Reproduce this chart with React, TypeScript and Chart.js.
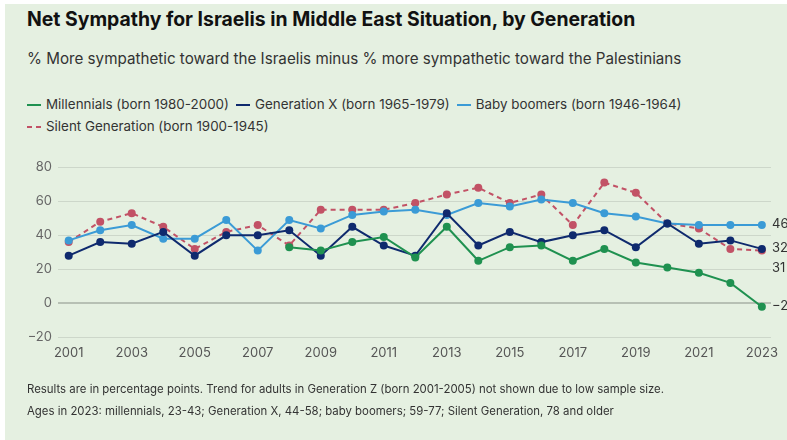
import React, { useEffect, useRef } from "react";
import { Chart, registerables } from "chart.js";

Chart.register(...registerables);

const years = [2001, 2002, 2003, 2004, 2005, 2006, 2007, 2008, 2009, 2010, 2011, 2012, 2013, 2014, 2015, 2016, 2017, 2018, 2019, 2020, 2021, 2022, 2023];
const tickYears = [2001, 2003, 2005, 2007, 2009, 2011, 2013, 2015, 2017, 2019, 2021, 2023];
const yTicks = [-20, 0, 20, 40, 60, 80];

const millennials = [null, null, null, null, null, null, null, 33, 31, 36, 39, 27, 45, 25, 33, 34, 25, 32, 24, 21, 18, 12, -2];
const genX = [28, 36, 35, 42, 28, 40, 40, 43, 28, 45, 34, 28, 53, 34, 42, 36, 40, 43, 33, 47, 35, 37, 32];
const boomers = [37, 43, 46, 38, 38, 49, 31, 49, 44, 52, 54, 55, 52, 59, 57, 61, 59, 53, 51, 47, 46, 46, 46];
const silent = [36, 48, 53, 45, 32, 42, 46, 34, 55, 55, 55, 59, 64, 68, 59, 64, 46, 71, 65, 47, 44, 32, 31];

const seriesNames = [
  "Millennials (born 1980-2000)",
  "Generation X (born 1965-1979)",
  "Baby boomers (born 1946-1964)",
  "Silent Generation (born 1900-1945)",
];
const seriesColors = ["#1f9150", "#0f2a6e", "#3b9bd6", "#c25266"];

const FONT = "Inter, 'Noto Sans', sans-serif";
const BG = "#e5f0e1";

const fmt = (v: number) => (v < 0 ? "\u2212" + Math.abs(v) : String(v));

const endLabels = {
  id: "endLabels",
  afterDatasetsDraw(chart: any) {
    const ctx = chart.ctx;
    const items: { y: number; text: string }[] = [];
    chart.data.datasets.forEach((ds: any, i: number) => {
      const meta = chart.getDatasetMeta(i);
      const last = meta.data[meta.data.length - 1];
      const val = ds.data[ds.data.length - 1].y;
      if (last && val !== null) items.push({ y: last.y - 1, text: fmt(val) });
    });
    items.sort((a, b) => a.y - b.y);
    for (let i = 1; i < items.length; i++) {
      if (items[i].y < items[i - 1].y + 20) items[i].y = items[i - 1].y + 20;
    }
    ctx.save();
    ctx.font = `13px ${FONT}`;
    ctx.fillStyle = "#333";
    ctx.textAlign = "left";
    ctx.textBaseline = "middle";
    items.forEach((it) => ctx.fillText(it.text, chart.chartArea.right + 1, it.y));
    ctx.restore();
  },
};

function LegendItem({ name, color, dashed }: { name: string; color: string; dashed?: boolean }) {
  return (
    <span style={{ display: "inline-flex", alignItems: "center", marginRight: 7, whiteSpace: "nowrap" }}>
      {dashed ? (
        <span style={{ display: "inline-flex", width: 14, marginRight: 5, justifyContent: "space-between" }}>
          <span style={{ width: 5, height: 2, background: color, display: "inline-block" }} />
          <span style={{ width: 5, height: 2, background: color, display: "inline-block" }} />
        </span>
      ) : (
        <span style={{ width: 14, height: 2.5, background: color, marginRight: 5, display: "inline-block" }} />
      )}
      {name}
    </span>
  );
}

export default function App() {
  const ref = useRef<HTMLCanvasElement | null>(null);

  useEffect(() => {
    if (!ref.current) return;
    const all = [millennials, genX, boomers, silent];
    const chart = new Chart(ref.current, {
      type: "line",
      data: {
        datasets: all.map((arr, i) => ({
          label: seriesNames[i],
          data: years.map((yr, j) => ({ x: yr, y: arr[j] })),
          borderColor: seriesColors[i],
          backgroundColor: seriesColors[i],
          pointBackgroundColor: seriesColors[i],
          pointBorderColor: seriesColors[i],
          borderWidth: 2,
          pointRadius: 4,
          pointBorderWidth: 0,
          borderDash: i === 3 ? [5, 4] : [],
          tension: 0,
          spanGaps: false,
          clip: false as any,
        })),
      },
      options: {
        animation: false,
        responsive: false,
        maintainAspectRatio: false,
        layout: { padding: { top: 167.3, right: 16, bottom: 72.7, left: 0 } },
        plugins: {
          legend: { display: false },
          tooltip: { enabled: false },
        },
        scales: {
          x: {
            type: "linear",
            min: 2000.66,
            max: 2023.29,
            grid: { display: false, drawTicks: false },
            border: { display: false },
            ticks: {
              autoSkip: false,
              maxRotation: 0,
              padding: 8,
              color: "#555",
              font: { family: FONT, size: 13 },
              callback: (v: any) => String(v),
            },
            afterBuildTicks: (s: any) => {
              s.ticks = tickYears.map((v) => ({ value: v }));
            },
            afterFit: (s: any) => {
              s.height = 30;
            },
          },
          y: {
            min: -20,
            max: 80,
            grid: {
              drawTicks: false,
              color: (c: any) => (c.tick && c.tick.value === 0 ? "rgba(0,0,0,0.2)" : "rgba(0,0,0,0.1)"),
              lineWidth: (c: any) => (c.tick && c.tick.value === 0 ? 2 : 1),
            },
            border: { display: false },
            ticks: {
              padding: 6,
              color: "#666",
              font: { family: FONT, size: 13 },
              callback: (v: any) => fmt(Number(v)),
            },
            afterBuildTicks: (s: any) => {
              s.ticks = yTicks.map((v) => ({ value: v }));
            },
            afterFit: (s: any) => {
              s.width = 58;
            },
          },
        },
      },
      plugins: [endLabels],
    } as any);
    return () => chart.destroy();
  }, []);

  return (
    <div style={{ position: "absolute", left: 0, top: 0, width: 787, height: 440, background: "#fff", overflow: "hidden", fontFamily: FONT }}>
      <div style={{ position: "absolute", left: 5, top: 4, right: 0, bottom: 0, background: BG }} />
      <div style={{ position: "absolute", left: 27, top: 10, fontSize: 19.4, lineHeight: "19.4px", fontWeight: 700, color: "#111", whiteSpace: "nowrap" }}>
        Net Sympathy for Israelis in Middle East Situation, by Generation
      </div>
      <div style={{ position: "absolute", left: 27, top: 50.5, fontSize: 15.2, lineHeight: "15.2px", color: "#333", whiteSpace: "nowrap" }}>
        % More sympathetic toward the Israelis minus % more sympathetic toward the Palestinians
      </div>
      <div style={{ position: "absolute", left: 27, top: 95.3, fontSize: 13.4, lineHeight: "13.4px", color: "#333", whiteSpace: "nowrap" }}>
        <LegendItem name={seriesNames[0]} color={seriesColors[0]} />
        <LegendItem name={seriesNames[1]} color={seriesColors[1]} />
        <LegendItem name={seriesNames[2]} color={seriesColors[2]} />
      </div>
      <div style={{ position: "absolute", left: 27, top: 117, fontSize: 13.4, lineHeight: "13.4px", color: "#333", whiteSpace: "nowrap" }}>
        <LegendItem name={seriesNames[3]} color={seriesColors[3]} dashed />
      </div>
      <canvas ref={ref} width={787} height={440} style={{ position: "absolute", left: 0, top: 0, width: 787, height: 440 }} />
      <div style={{ position: "absolute", left: 27, top: 384.3, fontSize: 11.4, lineHeight: "11.4px", color: "#333", whiteSpace: "nowrap" }}>
        Results are in percentage points. Trend for adults in Generation Z (born 2001-2005) not shown due to low sample size.
      </div>
      <div style={{ position: "absolute", left: 27, top: 406.3, fontSize: 11.4, lineHeight: "11.4px", color: "#333", whiteSpace: "nowrap" }}>
        Ages in 2023: millennials, 23-43; Generation X, 44-58; baby boomers; 59-77; Silent Generation, 78 and older
      </div>
    </div>
  );
}
